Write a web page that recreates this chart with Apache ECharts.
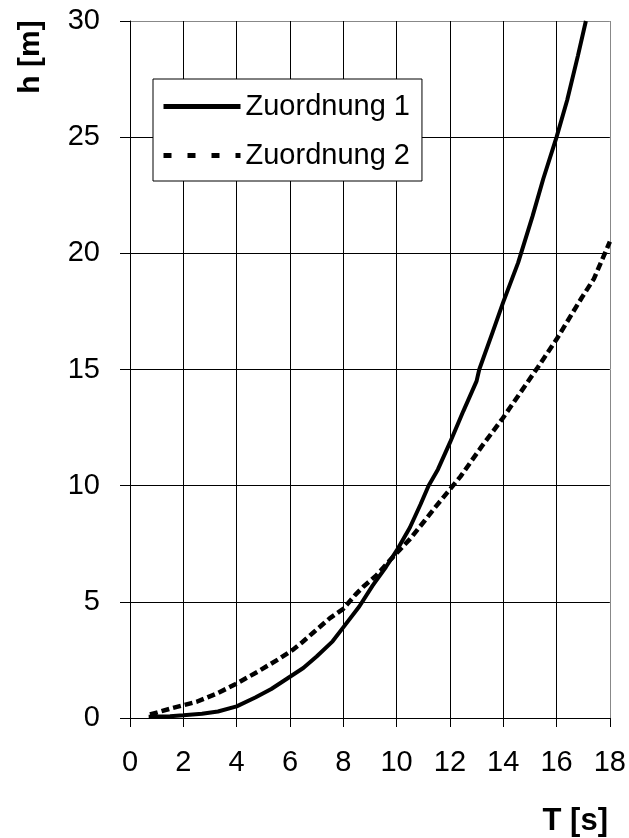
<!DOCTYPE html>
<html>
<head>
<meta charset="utf-8">
<script src="https://cdn.jsdelivr.net/npm/echarts@6/dist/echarts.min.js"></script>
<style>
  html, body { margin: 0; padding: 0; background: #fff; }
  #chart { width: 629px; height: 838px; }
</style>
</head>
<body>
<div id="chart"></div>
<script>
// Zuordnung 1: [T, h]
var zuordnung1 = [
  [0.7, 0.05], [1.5, 0.08], [2, 0.12], [2.7, 0.18], [3.3, 0.28], [4, 0.5],
  [4.7, 0.88], [5.3, 1.25], [5.9, 1.7], [6.5, 2.15], [7, 2.65], [7.6, 3.3],
  [8, 3.9], [8.6, 4.8], [9.1, 5.7], [9.6, 6.5], [10, 7.2], [10.5, 8.2],
  [10.9, 9.2], [11.2, 10.0], [11.55, 10.7], [12, 11.85], [12.5, 13.2],
  [13, 14.5], [13.1, 15.0], [13.6, 16.6], [14, 17.9], [14.56, 19.6],
  [15.1, 21.6], [15.5, 23.2], [16, 25], [16.4, 26.6], [16.8, 28.5], [17.1, 30]
]
// Zuordnung 2: [T, h]
var zuordnung2 = [
  [0.75, 0.15], [1.6, 0.43], [2.5, 0.7], [3.25, 1.05], [3.95, 1.45],
  [4.8, 2.0], [5.6, 2.55], [6.1, 2.93], [6.45, 3.25], [6.9, 3.7],
  [7.5, 4.3], [8, 4.7], [8.45, 5.3], [8.75, 5.65], [9.25, 6.15],
  [9.8, 6.85], [10.5, 7.7], [11.06, 8.5], [11.4, 9.0], [11.9, 9.7],
  [12.4, 10.4], [13.2, 11.7], [13.95, 12.85], [15.3, 15.1], [16, 16.3],
  [16.95, 18.1], [17.4, 18.9], [18, 20.5]
]
var seriesNames = ['Zuordnung 1', 'Zuordnung 2']
var xTicks = { min: 0, max: 18, interval: 2 }
var yTicks = { min: 0, max: 30, interval: 5 }

var font = "'Liberation Sans', Arial, sans-serif"
var chartDom = document.getElementById('chart')
var myChart = echarts.init(chartDom)

var option = {
  animation: false,
  backgroundColor: '#fff',
  grid: {
    left: 130,
    right: 19,
    top: 21,
    bottom: 120
  },
  legend: {
    orient: 'vertical',
    left: 153,
    top: 79,
    padding: [13, 12, 11, 8],
    itemGap: 20,
    itemWidth: 77,
    itemHeight: 2,
    backgroundColor: '#fff',
    borderColor: '#000',
    borderWidth: 1,
    borderRadius: 0,
    textStyle: {
      fontSize: 29,
      color: '#000',
      fontFamily: font
    },
    // hide the marker, keep only the line sample
    data: [
      { name: seriesNames[0], itemStyle: { opacity: 0 }, lineStyle: { width: 5 } },
      { name: seriesNames[1], itemStyle: { opacity: 0 }, lineStyle: { width: 5, type: [8, 16] } }
    ]
  },
  xAxis: {
    type: 'value',
    min: xTicks.min,
    max: xTicks.max,
    interval: xTicks.interval,
    axisLine: { lineStyle: { color: '#000', width: 1 } },
    axisTick: { show: true, inside: false, length: 9, lineStyle: { color: '#000' } },
    axisLabel: {
      margin: 30,
      fontSize: 29,
      color: '#000',
      fontFamily: font
    },
    splitLine: {
      show: true,
      lineStyle: {
        color: ['#000', '#000', '#000', '#000', '#000', '#000', '#000', '#000', '#000', '#888'],
        width: 1
      }
    }
  },
  yAxis: {
    type: 'value',
    min: yTicks.min,
    max: yTicks.max,
    interval: yTicks.interval,
    axisLine: { show: true, lineStyle: { color: '#000', width: 1 } },
    axisTick: { show: true, inside: false, length: 10, lineStyle: { color: '#000' } },
    axisLabel: {
      margin: 30,
      fontSize: 29,
      color: '#000',
      fontFamily: font
    },
    splitLine: {
      show: true,
      lineStyle: {
        color: ['#000', '#000', '#000', '#000', '#000', '#000', '#888'],
        width: 1
      }
    }
  },
  graphic: [
    {
      type: 'text',
      x: 608,
      y: 821,
      style: {
        text: 'T [s]',
        font: 'bold 31px ' + font,
        fill: '#000',
        align: 'right',
        verticalAlign: 'middle'
      }
    },
    {
      type: 'text',
      x: 31,
      y: 57,
      rotation: Math.PI / 2,
      style: {
        text: 'h [m]',
        font: 'bold 30px ' + font,
        fill: '#000',
        align: 'center',
        verticalAlign: 'middle'
      }
    }
  ],
  series: [
    {
      name: seriesNames[0],
      type: 'line',
      data: zuordnung1,
      showSymbol: false,
      symbol: 'none',
      clip: true,
      lineStyle: { color: '#000', width: 4 },
      itemStyle: { color: '#000' }
    },
    {
      name: seriesNames[1],
      type: 'line',
      data: zuordnung2,
      showSymbol: false,
      symbol: 'none',
      clip: true,
      lineStyle: { color: '#000', width: 4.5, type: [8, 4] },
      itemStyle: { color: '#000' }
    }
  ]
}
option && myChart.setOption(option)
</script>
</body>
</html>
